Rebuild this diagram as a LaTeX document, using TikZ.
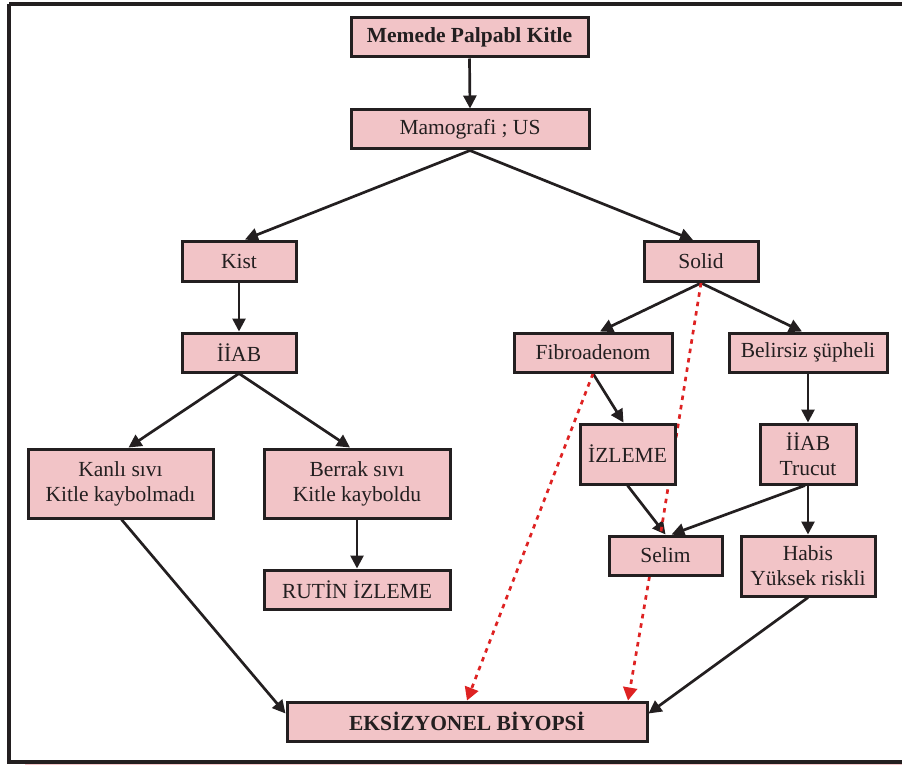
\documentclass[tikz,border=0pt]{standalone}
\usepackage{fontspec}
\setmainfont{Liberation Serif}
\usetikzlibrary{arrows.meta,backgrounds}
\definecolor{boxpink}{RGB}{242,196,199}
\definecolor{ink}{RGB}{35,31,32}
\definecolor{dotred}{RGB}{222,34,34}
\begin{document}
\begin{tikzpicture}[x=1pt,y=-1pt,
 box/.style={draw=ink, fill=boxpink, line width=3pt, inner sep=0pt, align=center,
   font=\fontsize{21.5}{25}\selectfont, text=ink},
 arr/.style={draw=ink, line width=2.7pt, -{Triangle[length=13pt,width=13pt]}},
 redarr/.style={draw=dotred, line width=2.7pt, dash pattern=on 4.5pt off 5pt, -{Triangle[length=13pt,width=14pt]}},
 redline/.style={draw=dotred, line width=2.7pt, dash pattern=on 4.5pt off 5pt},
 frame/.style={draw=ink, line width=3.5pt}]
\useasboundingbox (0,0) rectangle (902,765);

% frame
\draw[frame] (9,4) -- (905,4);
\draw[frame] (9,4) -- (9,762) -- (905,762);
\draw[boxpink, line width=1.5pt] (25,764.8) -- (905,764.8);

% nodes
\node[box, minimum width=237pt, minimum height=39pt] (top) at (469.5,37.5) {\textbf{Memede Palpabl Kitle}};
\node[box, minimum width=238pt, minimum height=39pt] (mam) at (470,129.5) {Mamografi ; US};
\node[box, minimum width=114pt, minimum height=40pt] (kist) at (239,261) {Kist};
\node[box, minimum width=114pt, minimum height=40pt] (solid) at (701,261.5) {Solid};
\node[box, minimum width=114pt, minimum height=39pt] (iiab1) at (239,352.5) {İİAB};
\node[box, minimum width=185pt, minimum height=69pt] (kanli) at (120.5,483.5) {Kanlı sıvı\\Kitle kaybolmadı};
\node[box, minimum width=186pt, minimum height=69pt] (berrak) at (357,483.5) {Berrak sıvı\\Kitle kayboldu};
\node[box, minimum width=186pt, minimum height=39pt] (rutin) at (357,589.5) {RUTİN İZLEME};
\node[box, minimum width=158pt, minimum height=39pt] (fibro) at (593,352.5) {Fibroadenom};
\node[box, minimum width=158pt, minimum height=39pt] (beli) at (808,352.5) {Belirsiz şüpheli};
\node[box, minimum width=95pt, minimum height=60pt] (izleme) at (627.5,454) {İZLEME};
\node[box, minimum width=96pt, minimum height=60pt] (iiab2) at (808,454) {İİAB\\Trucut};
\node[box, minimum width=113pt, minimum height=39pt] (selim) at (665.5,555.5) {Selim};
\node[box, minimum width=134pt, minimum height=60pt] (habis) at (808,566) {Habis\\Yüksek riskli};
\node[box, minimum width=360pt, minimum height=39pt] (eks) at (467,721.5) {\textbf{EKSİZYONEL BİYOPSİ}};

% connectors
\begin{pgfonlayer}{background}
\draw[arr] (top.south) -- (mam.north);
\draw[arr] (mam.south) -- ([xshift=6pt]kist.north);
\draw[arr] (mam.south) -- ([xshift=-8pt]solid.north);
\draw[arr] (kist.south) -- (iiab1.north);
\draw[arr] (iiab1.south) -- ([xshift=8pt]kanli.north);
\draw[arr] (iiab1.south) -- ([xshift=-7pt]berrak.north);
\draw[arr] ([xshift=1pt]kanli.south) -- ([yshift=8pt]eks.west);
\draw[arr] (berrak.south) -- (rutin.north);
\draw[arr] (solid.south) -- ([xshift=7pt]fibro.north);
\draw[arr] (solid.south) -- ([xshift=-6pt]beli.north);
\draw[arr] (fibro.south) -- ([xshift=-4pt]izleme.north);
\draw[arr] (beli.south) -- (iiab2.north);
\draw[arr] (izleme.south) -- (selim.north);
\draw[arr] ([xshift=-3pt]iiab2.south) -- ([xshift=6pt]selim.north);
\draw[arr] (iiab2.south) -- (habis.north);
\draw[arr] (habis.south) -- ([yshift=8pt]eks.east);
\draw[redarr] (fibro.south) -- (eks.north);
\draw[redline] (solid.south) -- ([xshift=-5pt]selim.north);
\draw[redarr] ([xshift=-16pt]selim.south) -- ([xshift=161pt]eks.north);
\end{pgfonlayer}
\end{tikzpicture}
\end{document}
